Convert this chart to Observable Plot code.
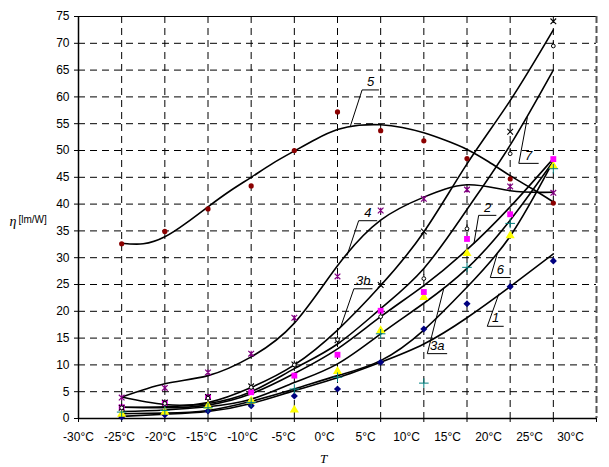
<!DOCTYPE html>
<html>
<head>
<meta charset="utf-8">
<script src="https://cdn.jsdelivr.net/npm/d3@7"></script>
<script src="https://cdn.jsdelivr.net/npm/@observablehq/plot@0.6"></script>
<style>
  body { margin: 0; background: #fff; }
  #chart svg { display: block; }
</style>
</head>
<body>
<div id="chart"></div>
<script>
// Ambient temperature (°C) of each measurement
const temps = [-25, -20, -15, -10, -5, 0, 5, 10, 15, 20, 25];

// Measured luminous efficacy η [lm/W] per lamp (null = no reading)
const meas1  = [0.3, 0.7, 1.4, 2.4, 4.2, 5.5, 10.5, 16.7, 21.4, 24.6, 29.4];
const meas2  = [2.1, 2.9, 4.0, 4.9, 8.0, 11.9, 20.1, 23.6, 33.5, 38.1, 48.4];
const meas3a = [0.8, 1.2, 2.3, 3.3, 1.6, 8.8, 16.4, 22.6, 30.8, 34.1, 47.1];
const meas3b = [2.0, 3.0, 4.0, 6.0, 10.1, 14.6, 24.9, 34.9, null, 53.5, 74.1];
const meas4  = [3.9, 5.7, 8.6, 12.1, 18.8, 26.5, 38.8, 41.0, 42.7, 43.3, 42.1];
const meas5  = [32.6, 34.9, 39.1, 43.4, 50.0, 57.2, 53.7, 51.8, 48.5, 44.7, 40.2];
const meas6  = [1.2, 1.5, 2.0, 3.0, 5.5, 7.7, 15.8, 6.6, 28.2, 36.4, 46.6];
const meas7  = [2.0, 2.8, 3.8, 5.8, 10.0, 14.7, 19.0, 26.1, 35.4, 49.4, 69.5];

// Trend line values at the same temperatures
const fit1  = [0.4, 0.8, 1.3, 2.8, 5.2, 7.6, 10.5, 13.9, 18.8, 24.6, 30.7];
const fit2  = [2.1, 2.0, 2.5, 4.6, 8.4, 13.0, 19.0, 24.8, 31.5, 39.5, 48.5];
const fit3a = [1.3, 1.6, 2.2, 3.6, 6.7, 10.2, 15.8, 21.5, 28.0, 37.0, 48.0];
const fit3b = [4.0, 2.6, 3.0, 5.8, 10.0, 16.5, 24.8, 34.8, 47.5, 59.3, 72.5];
const fit4  = [4.0, 6.5, 8.0, 11.5, 17.8, 28.5, 37.0, 41.3, 43.6, 42.5, 42.2];
const fit6  = [0.9, 1.0, 1.5, 3.2, 5.5, 8.0, 10.8, 16.5, 24.5, 34.0, 48.0];
const fit7  = [2.1, 2.2, 2.8, 5.0, 9.3, 13.9, 20.5, 28.0, 39.0, 51.0, 65.0];

// Trend line of lamp 5, sampled every 2.5 °C
const temps5 = [-25, -22.5, -20, -17.5, -15, -12.5, -10, -7.5, -5, -2.5, 0,
                2.5, 5, 7.5, 10, 12.5, 15, 17.5, 20, 22.5, 25];
const fit5   = [32.7, 32.6, 33.9, 36.5, 39.5, 42.4, 45.0, 47.6, 49.9, 52.1, 53.9,
                54.7, 54.8, 54.3, 53.3, 51.9, 50.2, 47.9, 45.3, 42.9, 40.4];

// Axis ticks
const xTicks = [-30, -25, -20, -15, -10, -5, 0, 5, 10, 15, 20, 25, 30];
const yTicks = [0, 5, 10, 15, 20, 25, 30, 35, 40, 45, 50, 55, 60, 65, 70, 75];

// Curve callouts: label, point on the curve, underline (from–to) and its height
const calloutNames = ["5", "4", "3b", "2", "6", "1", "3a", "7"];
const calloutCurveT   = [1.5, 1.1, 0.35, 15.8, 18.5, 18.7, 12.3, 22.0];
const calloutCurveEta = [54.6, 30.4, 17.0, 32.6, 30.7, 23.3, 24.2, 56.2];
const calloutLineT1   = [2.85, 2.45, 1.9, 16.35, 17.7, 17.35, 10.4, 21.0];
const calloutLineT2   = [4.8, 4.6, 4.05, 18.4, 20.05, 19.25, 12.7, 23.3];
const calloutLineEta  = [61.3, 36.9, 24.2, 37.9, 26.3, 17.2, 12.1, 47.6];

// Marker shapes that d3 does not provide
const starSymbol = {
  draw(ctx, size) {
    const r = Math.sqrt(size) / 2;
    ctx.moveTo(-r, -r); ctx.lineTo(r, r);
    ctx.moveTo(r, -r); ctx.lineTo(-r, r);
    ctx.moveTo(0, -r); ctx.lineTo(0, r);
  }
};
const xSymbol = {
  draw(ctx, size) {
    const r = Math.sqrt(size) / 2;
    ctx.moveTo(-r, -r); ctx.lineTo(r, r);
    ctx.moveTo(r, -r); ctx.lineTo(-r, r);
  }
};
const stemCircle = {
  draw(ctx, size) {
    const r = Math.sqrt(size) / 3.2;
    ctx.moveTo(r, 0); ctx.arc(0, 0, r, 0, 2 * Math.PI);
    ctx.moveTo(0, -r); ctx.lineTo(0, -2.3 * r);
  }
};

const rows = (vals, ts = temps) => ts.map((T, i) => ({T, eta: vals[i]}));

const curves = [
  ["1", fit1, temps], ["2", fit2, temps], ["3a", fit3a, temps], ["3b", fit3b, temps],
  ["4", fit4, temps], ["5", fit5, temps5], ["6", fit6, temps], ["7", fit7, temps]
].flatMap(([id, vals, ts]) => rows(vals, ts).map(d => ({...d, id})));

const callouts = calloutNames.map((name, i) => ({
  name,
  cx: calloutCurveT[i], cy: calloutCurveEta[i],
  u1: calloutLineT1[i], u2: calloutLineT2[i], uy: calloutLineEta[i]
}));

// Tick labels are spread a little tighter than the ticks themselves
const LABEL_SPREAD = 0.95;

const chart = Plot.plot({
  width: 609,
  height: 467,
  marginLeft: 78,
  marginRight: 13,
  marginTop: 16,
  marginBottom: 49,
  style: {fontFamily: "'Liberation Sans', Arial, sans-serif", background: "#fff"},
  x: {domain: [-30, 30]},
  y: {domain: [0, 75]},
  marks: [
    // dashed grid
    Plot.ruleY(yTicks.filter(v => v > 0 && v < 75), {stroke: "#000", strokeWidth: 1, strokeDasharray: "7,5"}),
    Plot.ruleX(xTicks.filter(v => v > -30 && v < 30), {stroke: "#000", strokeWidth: 1, strokeDasharray: "7,5"}),
    Plot.ruleY([75], {stroke: "#000", strokeWidth: 1}),
    Plot.ruleX([30], {stroke: "#555", strokeWidth: 2, strokeDasharray: "7,3"}),
    // axes
    Plot.ruleY([0], {stroke: "#000", strokeWidth: 1.5}),
    Plot.ruleX([-30], {stroke: "#000", strokeWidth: 1.5}),
    Plot.axisY({ticks: yTicks, tickSize: 4, tickPadding: 5, label: null, fontSize: 12, tickFormat: d => String(d)}),
    Plot.axisX({ticks: xTicks, tickSize: 4, label: null, tickFormat: () => ""}),
    Plot.text(xTicks, {
      x: d => -30 + (d + 30) * LABEL_SPREAD, y: 0, dy: 19,
      text: d => `${d}°C`, fontSize: 12, fill: "#000"
    }),
    // axis titles
    Plot.text(["T"], {frameAnchor: "bottom", dx: -14, dy: 44, fontFamily: "'Liberation Serif', serif", fontStyle: "italic", fontSize: 13}),
    Plot.text(["η"], {frameAnchor: "left", dx: -69, dy: 4, fontFamily: "'Liberation Serif', serif", fontStyle: "italic", fontSize: 14}),
    Plot.text(["[lm/W]"], {frameAnchor: "left", dx: -60, dy: 2, textAnchor: "start", fontSize: 10}),
    // trend lines
    Plot.line(curves, {x: "T", y: "eta", z: "id", curve: "natural", stroke: "#000", strokeWidth: 1.6}),
    // measurements
    Plot.dot(rows(meas1), {x: "T", y: "eta", symbol: "diamond2", r: 3.2, fill: "#000080", stroke: "none"}),
    Plot.dot(rows(meas3a), {x: "T", y: "eta", symbol: "triangle", r: 3.4, fill: "#FFFF00", stroke: "none"}),
    Plot.dot(rows(meas6), {x: "T", y: "eta", symbol: "plus", r: 3.2, fill: "none", stroke: "#008080", strokeWidth: 1}),
    Plot.dot(rows(meas2), {x: "T", y: "eta", symbol: "square", r: 3.3, fill: "#FF00FF", stroke: "none"}),
    Plot.dot(rows(meas4), {x: "T", y: "eta", symbol: starSymbol, r: 3.2, fill: "none", stroke: "#800080", strokeWidth: 1.2}),
    Plot.dot(rows(meas3b), {x: "T", y: "eta", symbol: xSymbol, r: 3.2, fill: "none", stroke: "#000", strokeWidth: 1.1}),
    Plot.dot(rows(meas7), {x: "T", y: "eta", symbol: stemCircle, r: 3.4, fill: "#fff", stroke: "#000", strokeWidth: 1}),
    Plot.dot(rows(meas5), {x: "T", y: "eta", symbol: "circle", r: 2.6, fill: "#8B0000", stroke: "none"}),
    // callouts
    Plot.link(callouts, {x1: "u1", y1: "uy", x2: "cx", y2: "cy", stroke: "#000", strokeWidth: 1}),
    Plot.link(callouts, {x1: "u1", y1: "uy", x2: "u2", y2: "uy", stroke: "#000", strokeWidth: 1}),
    Plot.text(callouts, {
      x: d => (d.u1 + d.u2) / 2, y: "uy", text: "name", dy: -8,
      fontSize: 13, fontStyle: "italic", fill: "#000"
    })
  ]
});

document.getElementById("chart").append(chart);
</script>
</body>
</html>
